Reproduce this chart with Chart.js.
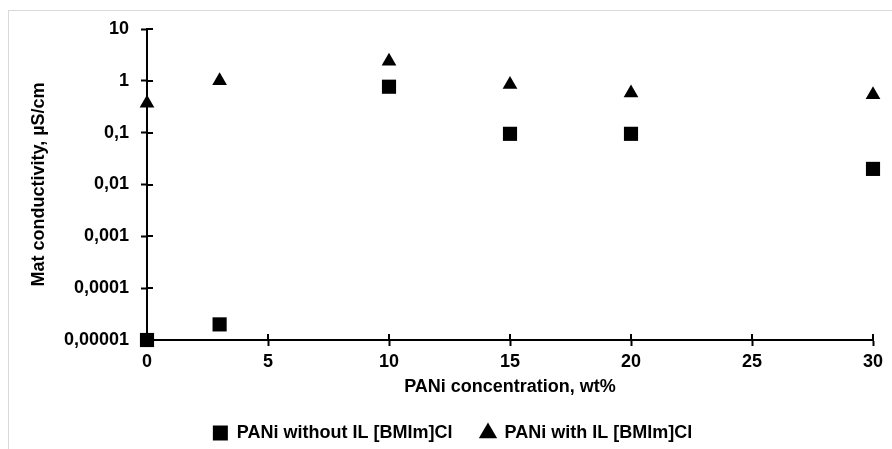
<!DOCTYPE html>
<html>
<head>
<meta charset="utf-8">
<script src="https://cdn.jsdelivr.net/npm/chart.js@4/dist/chart.umd.min.js"></script>
<style>
  html, body { margin: 0; padding: 0; background: #fff; }
  #wrap { position: relative; width: 892px; height: 449px; overflow: hidden; }
  #frame { position: absolute; left: 8px; top: 10px; width: 900px; height: 460px;
           border-left: 1px solid #d9d9d9; border-top: 1px solid #d9d9d9; }
  canvas { position: absolute; left: 0; top: 0; }
</style>
</head>
<body>
<div id="wrap">
  <div id="frame"></div>
  <canvas id="c" width="892" height="449"></canvas>
</div>
<script>
// ---- data ----
const seriesNames = ['PANi without IL [BMIm]Cl', 'PANi with IL [BMIm]Cl'];
const concWithout = [0, 3, 10, 15, 20, 30];
const condWithout = [0.00001, 0.00002, 0.77, 0.095, 0.095, 0.02];
const concWith = [0, 3, 10, 15, 20, 30];
const condWith = [0.37, 1.0, 2.4, 0.85, 0.58, 0.54];
const yTickValues = [0.00001, 0.0001, 0.001, 0.01, 0.1, 1, 10];
const yTickLabels = ['0,00001', '0,0001', '0,001', '0,01', '0,1', '1', '10'];
const xTickValues = [0, 5, 10, 15, 20, 25, 30];
const xTitle = 'PANi concentration, wt%';
const yTitle = 'Mat conductivity, \u00b5S/cm';

const FONT = '"Liberation Sans", Arial, sans-serif';
const toPts = (xs, ys) => xs.map((x, i) => ({ x: x, y: ys[i] }));

// inner halves of the crossing tick marks
const innerTicks = {
  id: 'innerTicks',
  beforeDatasetsDraw(chart) {
    const { ctx, chartArea, scales } = chart;
    ctx.save();
    ctx.strokeStyle = '#000';
    ctx.lineWidth = 2;
    ctx.beginPath();
    yTickValues.forEach(v => {
      const y = Math.round(scales.y.getPixelForValue(v));
      ctx.moveTo(chartArea.left, y);
      ctx.lineTo(chartArea.left + 6, y);
    });
    xTickValues.forEach(v => {
      const x = Math.round(scales.x.getPixelForValue(v));
      ctx.moveTo(x, chartArea.bottom);
      ctx.lineTo(x, chartArea.bottom - 6);
    });
    ctx.stroke();
    ctx.restore();
  }
};

new Chart(document.getElementById('c'), {
  type: 'scatter',
  data: {
    datasets: [
      {
        label: seriesNames[0],
        data: toPts(concWithout, condWithout),
        pointStyle: 'rect',
        pointRadius: 10,
        pointHoverRadius: 10,
        backgroundColor: '#000',
        borderColor: '#000',
        pointBorderWidth: 0,
        clip: false
      },
      {
        label: seriesNames[1],
        data: toPts(concWith, condWith),
        pointStyle: 'triangle',
        pointRadius: 8.5,
        pointHoverRadius: 8.5,
        backgroundColor: '#000',
        borderColor: '#000',
        pointBorderWidth: 0,
        clip: false
      }
    ]
  },
  options: {
    responsive: false,
    animation: false,
    events: [],
    layout: { padding: { left: 32, right: 19, top: 29, bottom: -3 } },
    plugins: {
      tooltip: { enabled: false },
      legend: {
        position: 'bottom',
        align: 'center',
        labels: {
          usePointStyle: true,
          boxWidth: 15,
          boxHeight: 15,
          padding: 28,
          color: '#000',
          font: { family: FONT, size: 18, weight: 'bold' }
        }
      }
    },
    scales: {
      x: {
        type: 'linear',
        min: 0,
        max: 30,
        afterBuildTicks(scale) { scale.ticks = xTickValues.map(v => ({ value: v })); },
        afterFit(scale) { scale.height = 56; },
        ticks: {
          color: '#000',
          padding: 5,
          font: { family: FONT, size: 18, weight: 'bold' }
        },
        grid: {
          display: true,
          drawOnChartArea: false,
          drawTicks: true,
          tickLength: 6,
          tickWidth: 2,
          tickColor: '#000',
          color: '#000'
        },
        border: { display: true, color: '#000', width: 2 },
        title: {
          display: true,
          text: xTitle,
          color: '#000',
          padding: { top: 0, bottom: 0 },
          font: { family: FONT, size: 18, weight: 'bold', lineHeight: 1 }
        }
      },
      y: {
        type: 'logarithmic',
        min: 0.00001,
        max: 10,
        afterBuildTicks(scale) { scale.ticks = yTickValues.map(v => ({ value: v })); },
        afterFit(scale) { scale.width = 115; },
        ticks: {
          color: '#000',
          padding: 12,
          font: { family: FONT, size: 18, weight: 'bold' },
          callback(value) {
            const i = yTickValues.findIndex(t => Math.abs(Math.log10(t) - Math.log10(value)) < 1e-6);
            return i >= 0 ? yTickLabels[i] : '';
          }
        },
        grid: {
          display: true,
          drawOnChartArea: false,
          drawTicks: true,
          tickLength: 6,
          tickWidth: 2,
          tickColor: '#000',
          color: '#000'
        },
        border: { display: true, color: '#000', width: 2 },
        title: {
          display: true,
          text: yTitle,
          color: '#000',
          padding: { top: 0, bottom: 0 },
          font: { family: FONT, size: 18, weight: 'bold', lineHeight: 0.78 }
        }
      }
    }
  },
  plugins: [innerTicks]
});
</script>
</body>
</html>
